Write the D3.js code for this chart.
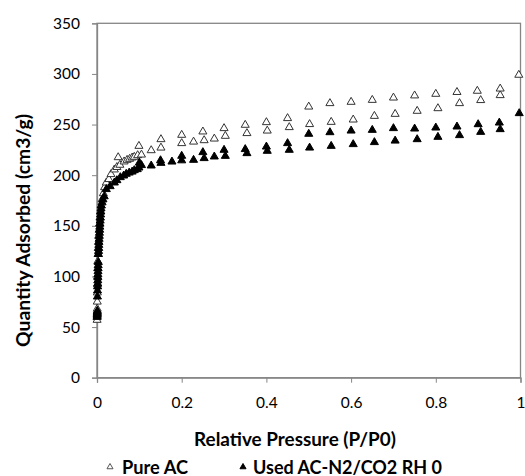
<!DOCTYPE html>
<html>
<head>
<meta charset="utf-8">
<script src="https://cdn.jsdelivr.net/npm/d3@7"></script>
<style>
  html, body { margin: 0; padding: 0; background: #fff; }
  svg { display: block; }
</style>
</head>
<body>
<svg id="chart" width="525" height="476"></svg>
<script>
// ---- Data ----
const xTicks = [0, 0.2, 0.4, 0.6, 0.8, 1];
const yTicks = [0, 50, 100, 150, 200, 250, 300, 350];
const seriesNames = ["Pure AC", "Used AC-N2/CO2 RH 0"];

// Pure AC – adsorption branch
const pureAdsP = [0.0002, 0.0003, 0.0004, 0.0005, 0.0006, 0.0008, 0.001, 0.0013, 0.0016, 0.002, 0.0025, 0.003, 0.0035, 0.004, 0.005, 0.006, 0.007, 0.008, 0.010, 0.012, 0.015, 0.018,
  0.022, 0.028, 0.033, 0.041, 0.047, 0.054, 0.064, 0.071, 0.077, 0.083, 0.088, 0.096, 0.105, 0.128, 0.151,
  0.200, 0.228, 0.253, 0.277, 0.303, 0.354, 0.402, 0.454, 0.502, 0.553, 0.605, 0.655, 0.704, 0.756, 0.805, 0.856, 0.906, 0.952, 0.996];
const pureAdsQ = [57, 60, 63, 68, 75, 84, 92, 100, 108, 115, 122, 128, 134, 140, 146, 152, 158, 164, 170, 176, 182, 188,
  192.6, 196, 200.9, 205.5, 207.9, 210.1, 213.4, 215, 216, 217.3, 218, 219.6, 220.2, 224.5, 227.1,
  231.5, 233, 234.4, 236, 238.7, 241.4, 243.9, 247.3, 250.3, 252.5, 254.8, 258.4, 260.4, 263.4, 266, 271, 274, 278.9, 299];
// Pure AC – desorption branch
const pureDesP = [0.05, 0.099, 0.151, 0.2, 0.25, 0.3, 0.35, 0.4, 0.45, 0.5, 0.55, 0.6, 0.65, 0.7, 0.75, 0.8, 0.85, 0.898, 0.952];
const pureDesQ = [217.6, 228.8, 235.4, 239.7, 243, 246.3, 249.6, 252.2, 256.2, 267.6, 271, 272.3, 274.2, 276.5, 278.6, 280.2, 282, 283.2, 285.4];

// Used AC – adsorption branch
const usedAdsP = [0.0002, 0.0003, 0.0004, 0.0005, 0.0006, 0.0007, 0.0008, 0.001, 0.0012, 0.0014, 0.0016, 0.0018, 0.002, 0.0022, 0.0024, 0.0026, 0.0028, 0.003,
  0.0034, 0.0037, 0.004, 0.0043, 0.0046, 0.005, 0.0054, 0.0058, 0.0062, 0.0066, 0.007, 0.0075, 0.008, 0.0085, 0.009, 0.0095, 0.010, 0.012, 0.014, 0.017,
  0.022, 0.031, 0.041, 0.047, 0.055, 0.063, 0.069, 0.076, 0.083, 0.088, 0.095, 0.099, 0.105, 0.128, 0.151, 0.177,
  0.200, 0.228, 0.253, 0.277, 0.303, 0.354, 0.402, 0.454, 0.502, 0.553, 0.605, 0.655, 0.704, 0.756, 0.805, 0.856, 0.906, 0.952, 0.997];
const usedAdsQ = [60, 61, 62, 63, 64, 65, 66, 80, 86, 90, 93, 96, 99, 102, 105, 108, 111, 114,
  122, 125, 128, 131, 134, 137, 140, 143, 146, 149, 152, 155, 158, 161, 164, 167, 170, 173, 176, 179,
  186.1, 189, 192.6, 194.9, 197.9, 199.5, 201.2, 202.4, 203.4, 204.8, 205.8, 207.4, 209.8, 209.4, 212, 213.3,
  214.5, 215, 216.7, 218.3, 218.9, 221.6, 223.9, 224.9, 227.1, 228.8, 230.5, 232.5, 234, 235.4, 237.7, 239.4, 242.6, 245.3, 261.1];
// Used AC – desorption branch
const usedDesP = [0.1, 0.15, 0.2, 0.25, 0.3, 0.35, 0.4, 0.45, 0.5, 0.55, 0.6, 0.65, 0.7, 0.75, 0.8, 0.85, 0.9, 0.95];
const usedDesQ = [212.3, 214.6, 219, 222.6, 224.9, 225.6, 228.1, 231.5, 240.7, 242.3, 243.9, 244.6, 246.3, 245.9, 246.9, 247.9, 250.2, 251.8];

// ---- Drawing ----
const svg = d3.select("#chart");
const mLeft = 97, mRight = 520.5, mTop = 23.3, mBottom = 377.7;
const x = d3.scaleLinear().domain([0, 1]).range([mLeft, mRight]);
const y = d3.scaleLinear().domain([0, 350]).range([mBottom, mTop]);
const axisColor = "#868686";
const font = "Lato, 'Open Sans', sans-serif";

// scale a text's font size so that it spans the given width
function fitWidth(sel, base, width) {
  sel.style("font-size", base + "px");
  const w = sel.node().getComputedTextLength();
  if (w > 0) sel.style("font-size", (base * width / w).toFixed(2) + "px");
  return sel;
}

// plot border
svg.append("rect")
  .attr("x", mLeft).attr("y", mTop)
  .attr("width", mRight - mLeft).attr("height", mBottom - mTop)
  .attr("fill", "none").attr("stroke", axisColor).attr("stroke-width", 1.3);

const yAxis = svg.append("g")
  .attr("transform", `translate(${mLeft},0)`)
  .call(d3.axisLeft(y).tickValues(yTicks).tickSize(5).tickPadding(12).tickFormat(d3.format("d")));
const xAxis = svg.append("g")
  .attr("transform", `translate(0,${mBottom})`)
  .call(d3.axisBottom(x).tickValues(xTicks).tickSize(5).tickPadding(14).tickFormat(d => d === 0 || d === 1 ? String(d) : d3.format(".1f")(d)));

[yAxis, xAxis].forEach(g => {
  g.select(".domain").attr("stroke", axisColor).attr("stroke-width", 1.3);
  g.selectAll(".tick line").attr("stroke", axisColor);
  g.selectAll(".tick text").attr("fill", "#000").style("font-family", font).style("font-size", "15.5px");
});

// axis titles
const yTitle = svg.append("text")
  .attr("transform", "translate(30,230.5) rotate(-90)")
  .attr("text-anchor", "middle")
  .style("font-family", font).style("font-weight", "bold")
  .text("Quantity Adsorbed (cm3/g)");
fitWidth(yTitle, 18, 233);

const xTitle = svg.append("text")
  .attr("x", 295).attr("y", 446)
  .attr("text-anchor", "middle")
  .style("font-family", font).style("font-weight", "bold")
  .text("Relative Pressure (P/P0)");
fitWidth(xTitle, 18, 202);

const tri = d3.symbol().type(d3.symbolTriangle).size(28);

function drawSeries(Ps, Qs, filled) {
  svg.append("g").selectAll("path")
    .data(Ps.map((p, i) => [p, Qs[i]]))
    .join("path")
    .attr("transform", d => `translate(${x(d[0])},${y(d[1])})`)
    .attr("d", tri)
    .attr("fill", filled ? "#000" : "#fff")
    .attr("stroke", filled ? "#000" : "#333")
    .attr("stroke-width", 1);
}
drawSeries(pureAdsP, pureAdsQ, false);
drawSeries(pureDesP, pureDesQ, false);
drawSeries(usedAdsP, usedAdsQ, true);
drawSeries(usedDesP, usedDesQ, true);

// legend
const legY = 467;
const legendItems = [
  { name: seriesNames[0], filled: false, mx: 110, tx: 122, w: 66 },
  { name: seriesNames[1], filled: true, mx: 243, tx: 253, w: 189 }
];
legendItems.forEach(it => {
  svg.append("path")
    .attr("transform", `translate(${it.mx},${legY})`)
    .attr("d", d3.symbol().type(d3.symbolTriangle).size(16))
    .attr("fill", it.filled ? "#000" : "#fff")
    .attr("stroke", it.filled ? "#000" : "#555");
  const t = svg.append("text")
    .attr("x", it.tx).attr("y", legY + 6.5)
    .style("font-family", font).style("font-weight", "bold")
    .text(it.name);
  fitWidth(t, 18, it.w);
});
</script>
</body>
</html>
